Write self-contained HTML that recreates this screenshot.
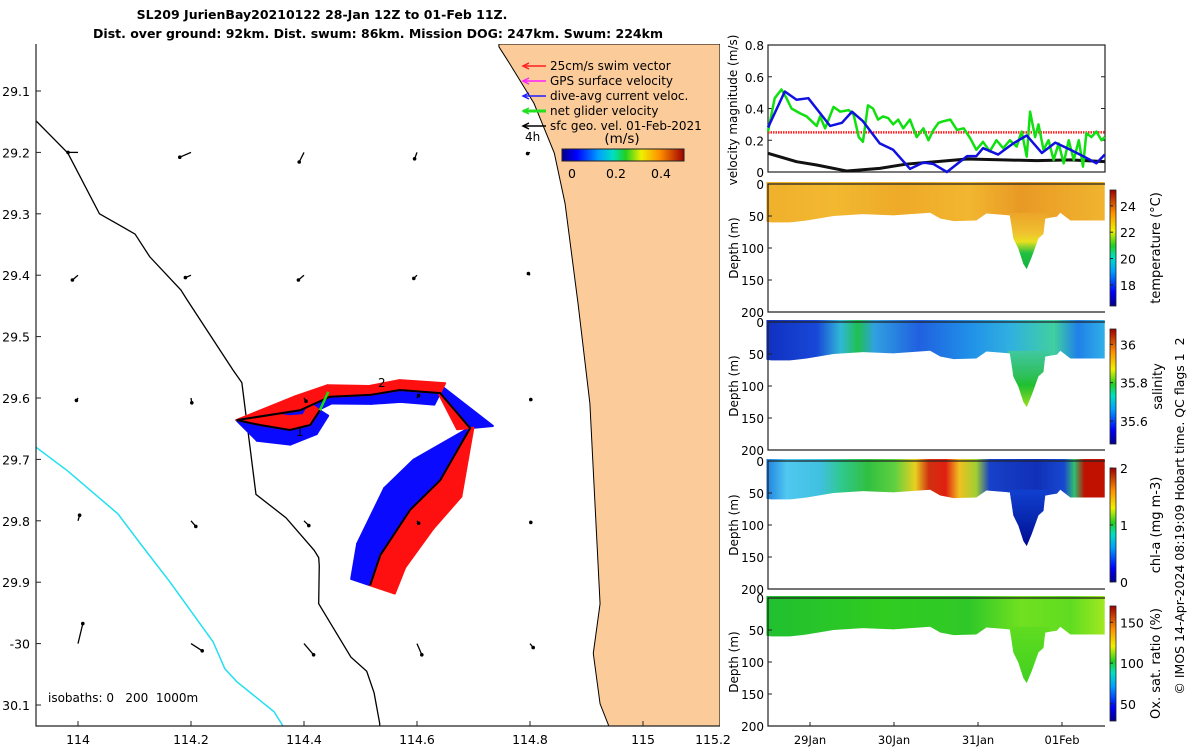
<!DOCTYPE html>
<html><head><meta charset="utf-8"><style>
body{margin:0;background:#fff}
svg{display:block;font-family:"DejaVu Sans","Liberation Sans",sans-serif}
</style></head><body>
<svg id="s" width="1200" height="750" viewBox="0 0 1200 750" xmlns="http://www.w3.org/2000/svg">
<defs>
<linearGradient id="jet" x1="0" y1="0" x2="1" y2="0">
<stop offset="0" stop-color="#00008f"/><stop offset=".12" stop-color="#0000ff"/><stop offset=".3" stop-color="#00a0ff"/><stop offset=".42" stop-color="#00e0c0"/><stop offset=".52" stop-color="#20d020"/><stop offset=".65" stop-color="#f0f000"/><stop offset=".8" stop-color="#ff9000"/><stop offset="1" stop-color="#a00000"/>
</linearGradient>
<linearGradient id="jetv" x1="0" y1="1" x2="0" y2="0">
<stop offset="0" stop-color="#00008f"/><stop offset=".12" stop-color="#0000ff"/><stop offset=".3" stop-color="#00a0ff"/><stop offset=".42" stop-color="#00e0c0"/><stop offset=".52" stop-color="#20d020"/><stop offset=".65" stop-color="#f0f000"/><stop offset=".8" stop-color="#ff9000"/><stop offset="1" stop-color="#a00000"/>
</linearGradient>
<clipPath id="mapclip"><rect x="36" y="44" width="684" height="682"/></clipPath>
</defs>
<text x="322" y="19" text-anchor="middle" font-size="12.5" font-weight="bold">SL209 JurienBay20210122 28-Jan 12Z to 01-Feb 11Z.</text>
<text x="378" y="38" text-anchor="middle" font-size="12.5" font-weight="bold">Dist. over ground: 92km. Dist. swum: 86km. Mission DOG: 247km. Swum: 224km</text>
<g id="mapc" clip-path="url(#mapclip)"></g>
<g id="map"></g>
<g id="right"></g>
<text transform="translate(1184,516) rotate(-90)" text-anchor="middle" font-size="12.5">© IMOS 14-Apr-2024 08:19:09 Hobart time. QC flags 1&#160;&#160;2</text>
</svg>
<script>
// ---------- MAP DATA ----------
const mapLonTicks=[114,114.2,114.4,114.6,114.8,115];
const mapLatTicks=[29.1,29.2,29.3,29.4,29.5,29.6,29.7,29.8,29.9,30.0,30.1];
const mapLatLabels=["29.1","29.2","29.3","29.4","29.5","29.6","29.7","29.8","29.9","-30","30.1"];
const coastLon=[114.745,114.763,114.807,114.843,114.862,114.885,114.906,114.915,114.924,114.912,114.924,114.942];
const coastLat=[29.028,29.054,29.120,29.201,29.283,29.446,29.609,29.772,29.935,30.016,30.098,30.140];
const iso200Lon=[113.924,113.982,114.038,114.101,114.127,114.182,114.193,114.274,114.290,114.315,114.368,114.418,114.426,114.427,114.426,114.483,114.511,114.524,114.534,114.534,114.519];
const iso200Lat=[29.147,29.201,29.300,29.333,29.370,29.424,29.440,29.554,29.575,29.757,29.795,29.848,29.860,29.873,29.935,30.022,30.045,30.080,30.130,30.140,30.140];
const iso1000Lon=[113.924,113.982,114.071,114.111,114.163,114.239,114.260,114.281,114.347,114.366,114.366,114.361];
const iso1000Lat=[29.679,29.719,29.789,29.838,29.900,29.997,30.041,30.062,30.111,30.139,30.186,30.200];
const trackLon=[114.517,114.535,114.588,114.641,114.694,114.641,114.570,114.517,114.446,114.393,114.281,114.322,114.375,114.411,114.428];
const trackLat=[29.905,29.856,29.782,29.734,29.649,29.592,29.587,29.595,29.598,29.620,29.636,29.644,29.652,29.644,29.620];
const redOff=[-26,-30,-30,-24,16,-12,-8,-10,-14,-16,12,14,14,12];
const blueOff=[20,32,36,32,-28,14,10,8,6,10,-16,-16,-14,-10];
const vecLon=[114,114.2,114.4,114.6,114.8];
const vecLat=[29.2,29.4,29.6,29.8,30.0];
const vecU=[[-0.25,-0.28,-0.12,-0.06,-0.06],[-0.14,-0.14,-0.14,-0.08,-0.04],[-0.04,0.02,0.05,0.04,0.02],[0.04,0.12,0.12,0.04,0.02],[0.12,0.28,0.24,0.12,0.08]];
const vecV=[[0,0.12,0.24,0.16,0.03],[0.12,0.06,0.12,0.08,-0.04],[0.06,0.12,0.08,-0.06,0.04],[-0.14,0.14,0.12,0.06,0.04],[-0.5,0.18,0.28,0.28,0.1]];
// ---------- RIGHT PANEL DATA ----------
const dayTicks=[29,30,31,32];
const dayLabels=["29Jan","30Jan","31Jan","01Feb"];
const velTicks=[0,0.2,0.4,0.6,0.8];
const blueDay=[28.50,28.70,28.84,28.98,29.24,29.38,29.50,29.63,29.83,29.99,30.19,30.35,30.47,30.63,30.87,30.98,31.06,31.24,31.42,31.58,31.76,31.92,32.10,32.25,32.41,32.51];
const blueVel=[0.28,0.507,0.455,0.465,0.29,0.31,0.38,0.32,0.18,0.14,0.02,0.06,0.05,0.0,0.10,0.10,0.15,0.11,0.18,0.23,0.12,0.185,0.14,0.10,0.055,0.11];
const greenDay=[28.50,28.58,28.66,28.72,28.78,28.88,28.96,29.02,29.08,29.12,29.18,29.28,29.36,29.46,29.52,29.58,29.63,29.69,29.75,29.81,29.87,29.93,29.99,30.05,30.11,30.19,30.27,30.35,30.41,30.47,30.53,30.59,30.67,30.75,30.83,30.91,30.98,31.06,31.14,31.22,31.30,31.38,31.46,31.52,31.58,31.62,31.68,31.72,31.78,31.84,31.90,31.96,32.02,32.08,32.14,32.20,32.25,32.29,32.35,32.41,32.47,32.51];
const greenVel=[0.255,0.465,0.52,0.465,0.40,0.37,0.35,0.32,0.29,0.35,0.275,0.41,0.38,0.39,0.36,0.22,0.19,0.42,0.40,0.33,0.35,0.34,0.30,0.33,0.275,0.33,0.22,0.275,0.20,0.265,0.31,0.32,0.33,0.265,0.275,0.21,0.14,0.19,0.13,0.20,0.15,0.20,0.16,0.255,0.097,0.38,0.22,0.30,0.14,0.20,0.076,0.18,0.055,0.20,0.076,0.20,0.034,0.245,0.22,0.255,0.20,0.22];
const blackDay=[28.50,28.84,29.08,29.44,29.83,30.15,30.51,30.87,31.30,31.70,32.10,32.51];
const blackVel=[0.118,0.065,0.044,0.006,0.023,0.05,0.065,0.082,0.076,0.072,0.076,0.065];
const swimRef=[0.25];
const depthTicks=[0,50,100,150,200];
const bottomDay=[28.48,28.64,28.96,29.28,29.63,29.99,30.43,30.55,30.71,30.98,31.10,31.38,31.42,31.48,31.54,31.58,31.64,31.72,31.78,31.80,31.94,31.98,32.10,32.51];
const bottomDepth=[59,62,57,50,47,49,45,54,58,57,46,49,85,101,125,133,114,85,78,54,51,45,57,57];
const tempTicks=[18,20,22,24];
const salTicks=[35.6,35.8,36];
const chlTicks=[0,1,2];
const oxTicks=[50,100,150];

const S=document.getElementById('s'),NS='http://www.w3.org/2000/svg';
function mk(tag,at,par){const e=document.createElementNS(NS,tag);for(const k in at)e.setAttribute(k,at[k]);(par||S).appendChild(e);return e;}
function txt(par,x,y,s,at){const e=mk('text',Object.assign({x:x,y:y,'font-size':12.5},at||{}),par);e.textContent=s;return e;}
const MC=document.getElementById('mapc'),M=document.getElementById('map'),R=document.getElementById('right');
const mx=lon=>78+(lon-114)*565, my=lat=>91+(lat-29.1)*614;
const ML=36,MR=720,MT=44,MB=726;
let lp=coastLon.map((l,i)=>mx(l)+','+my(coastLat[i])).join(' ');
let land=mk('polygon',{points:mx(coastLon[0])+','+MT+' '+lp+' '+MR+','+(MB+30)+' '+MR+','+MT,fill:'#fbcb9a',stroke:'#000','stroke-width':1},MC);

let c=mk('polyline',{points:iso200Lon.map((l,i)=>mx(l)+','+my(iso200Lat[i])).join(' '),fill:'none',stroke:'#000','stroke-width':1.3},MC);

c=mk('polyline',{points:iso1000Lon.map((l,i)=>mx(l)+','+my(iso1000Lat[i])).join(' '),fill:'none',stroke:'#22e0f0','stroke-width':1.5},MC);

function band(off,col,name){const P=trackLon.map((l,i)=>[mx(l),my(trackLat[i])]);const n=P.length;
 const N=[];for(let i=0;i<n-1;i++){const dx=P[i+1][0]-P[i][0],dy=P[i+1][1]-P[i][1],L=Math.hypot(dx,dy);N.push([dy/L,-dx/L]);}
 for(let i=0;i<n-1;i++){
  const o=off[i],oPrev=i>0?(off[i-1]+o)/2:o,oNext=i<n-2?(off[i+1]+o)/2:o;
  const nA=i>0?[(N[i-1][0]+N[i][0])/2,(N[i-1][1]+N[i][1])/2]:N[i];
  const nB=i<n-2?[(N[i+1][0]+N[i][0])/2,(N[i+1][1]+N[i][1])/2]:N[i];
  const a=P[i],b=P[i+1];
  const sa=Math.sign(o)==Math.sign(oPrev)?oPrev:o, sb=Math.sign(o)==Math.sign(oNext)?oNext:o;
  const p=mk('polygon',{points:`${a[0]},${a[1]} ${b[0]},${b[1]} ${b[0]+nB[0]*sb},${b[1]+nB[1]*sb} ${a[0]+nA[0]*sa},${a[1]+nA[1]*sa}`,fill:col,stroke:col,'stroke-width':2,'stroke-linejoin':'round'},MC);
  }}
band(blueOff,'#0a0aff','dive-avg-current-band');band(redOff,'#ff1010','swim-vector-band');
c=mk('polyline',{points:trackLon.map((l,i)=>mx(l)+','+my(trackLat[i])).join(' '),fill:'none',stroke:'#000','stroke-width':2},MC);

c=mk('line',{x1:mx(114.428),y1:my(29.620),x2:mx(114.443),y2:my(29.59),stroke:'#10e010','stroke-width':2.5},MC);

txt(MC,378,387,'2',{'font-size':12});txt(MC,296,436,'1',{'font-size':12});
vecLat.forEach((la,r)=>vecLon.forEach((lo,k)=>{const x=mx(lo),y=my(la),x2=x+vecU[r][k]*40,y2=y+vecV[r][k]*40;
const l=mk('line',{x1:x,y1:y,x2:x2,y2:y2,stroke:'#000','stroke-width':1.3},MC);
const h=mk('circle',{cx:x2,cy:y2,r:1.8,fill:'#000'},MC);}));
c=mk('polyline',{points:`${ML},${MT} ${ML},${MB} ${MR},${MB}`,fill:'none',stroke:'#222','stroke-width':1.2},M);

mapLonTicks.forEach(l=>{mk('line',{x1:mx(l),y1:MB,x2:mx(l),y2:MB-5,stroke:'#222'},M);const t=txt(M,mx(l),744,String(l),{'text-anchor':'middle'});});
txt(M,713,744,'115.2',{'text-anchor':'middle'});
mapLatTicks.forEach((l,i)=>{mk('line',{x1:ML,y1:my(l),x2:ML+5,y2:my(l),stroke:'#222'},M);const t=txt(M,30,my(l)+5,mapLatLabels[i],{'text-anchor':'end'});});
txt(M,48,702,'isobaths: 0\u00a0\u00a0\u00a0200\u00a0\u00a01000m',{'font-size':12});
const legC=['#ff2020','#ff20ff','#2020ff','#20e020','#000'],legT=['25cm/s swim vector','GPS surface velocity','dive-avg current veloc.','net glider velocity','sfc geo. vel. 01-Feb-2021'];
legT.forEach((s,i)=>{const y=66+i*15;const l=mk('line',{x1:523,y1:y,x2:546,y2:y,stroke:legC[i],'stroke-width':i==3?3:1.5},M);
mk('polyline',{points:`529,${y-3} 523,${y} 529,${y+3}`,fill:'none',stroke:legC[i],'stroke-width':1.5},M);
const t=txt(M,550,y+4,s,{'font-size':12});});
txt(M,525,141,'4h',{'font-size':12});txt(M,622,143,'(m/s)',{'text-anchor':'middle','font-size':13.5});
c=mk('rect',{x:562,y:149,width:122,height:12,fill:'url(#jet)',stroke:'#222','stroke-width':1},M);
[[572,'0'],[616,'0.2'],[661,'0.4']].forEach(a=>txt(M,a[0],178,a[1],{'text-anchor':'middle'}));
// ---------- RIGHT ----------
const X0=768,X1=1105,px=d=>810+(d-29)*84;
const vy=v=>172-v*158.75;
mk('rect',{x:X0,y:45,width:X1-X0,height:127,fill:'none',stroke:'#222','stroke-width':1.2},R);
velTicks.forEach(v=>{mk('line',{x1:X0,y1:vy(v),x2:X0+4,y2:vy(v),stroke:'#222'},R);mk('line',{x1:X1,y1:vy(v),x2:X1-4,y2:vy(v),stroke:'#222'},R);txt(R,764,vy(v)+5,String(v),{'text-anchor':'end','font-size':12});});
txt(R,0,0,'velocity magnitude (m/s)',{transform:'translate(737,110) rotate(-90)','text-anchor':'middle','font-size':12});
c=mk('line',{x1:X0,y1:vy(swimRef[0]),x2:X1,y2:vy(swimRef[0]),stroke:'#ff2020','stroke-width':2.5,'stroke-dasharray':'1.5 1'},R);
function ser(d,v,col,w,name){const p=mk('polyline',{points:d.map((x,i)=>px(x)+','+vy(v[i])).join(' '),fill:'none',stroke:col,'stroke-width':w,'stroke-linejoin':'round'},R);}
ser(blackDay,blackVel,'#111',3,'sfc-geo-velocity-line');ser(greenDay,greenVel,'#10e010',2.5,'net-glider-velocity-line');ser(blueDay,blueVel,'#1010e0',2.5,'dive-avg-current-line');
const panels=[
 {top:184,name:'temperature-section',base:[['0','#f0b02c'],['.2','#f2b830'],['.4','#eeaa28'],['.6','#f2b630'],['.75','#e89a24'],['.85','#eca428'],['1','#f0b430']],bump:[['0','#eca428'],['.35','#f0c030'],['.5','#e8e020'],['.7','#20c040'],['1','#10b040']],cb:[190,306],ticks:tempTicks,lo:16.4,hi:25.2,label:'temperature (°C)',lx:1160},
 {top:322,name:'salinity-section',base:[['0','#1030c0'],['.15','#1848d8'],['.22','#30b8d8'],['.27','#20c050'],['.32','#30a0e0'],['.45','#2060e0'],['.6','#2090e8'],['.72','#30b0e0'],['.85','#40d0a0'],['.92','#2080e8'],['1','#30b0e8']],bump:[['0','#40c8a0'],['.4','#30c060'],['.6','#20c030'],['1','#a0e020']],cb:[329,444],ticks:salTicks,lo:35.48,hi:36.08,label:'salinity',lx:1162},
 {top:461,name:'chl-a-section',base:[['0','#2080e0'],['.06','#50c8f0'],['.16','#40c0e0'],['.22','#30c890'],['.3','#30c040'],['.38','#60d040'],['.44','#e8d020'],['.48','#d03010'],['.53','#e02010'],['.57','#f0c020'],['.62','#a0d030'],['.66','#1840c8'],['.8','#1030b8'],['.88','#1848d0'],['.91','#30c070'],['.94','#c01000'],['1','#c01000']],bump:[['0','#1040d0'],['.5','#0828b0'],['1','#000890']],cb:[468,582],ticks:chlTicks,lo:0,hi:2,label:'chl-a (mg m-3)',lx:1160},
 {top:598,name:'oxygen-section',base:[['0','#20c030'],['.35','#30cc20'],['.6','#30c828'],['.75','#70e020'],['.9','#60dc20'],['1','#a0e820']],bump:[['0','#60dc20'],['1','#40d020']],cb:[606,721],ticks:oxTicks,lo:29,hi:170,label:'Ox. sat. ratio (%)',lx:1160}];
panels.forEach((P,pi)=>{const dy=d=>P.top+d*128/200;
 const g=mk('g',{},R);
 const gid='g'+pi,bid='b'+pi,cid='c'+pi,defs=S.querySelector('defs');
 const lg=mk('linearGradient',{id:gid,x1:0,y1:0,x2:1,y2:0},defs);P.base.forEach(s=>mk('stop',{offset:s[0],'stop-color':s[1]},lg));
 const bg=mk('linearGradient',{id:bid,x1:0,y1:0,x2:0,y2:1},defs);P.bump.forEach(s=>mk('stop',{offset:s[0],'stop-color':s[1]},bg));
 const cp=mk('clipPath',{id:cid},defs);
 mk('polygon',{points:px(bottomDay[0])+','+(P.top-2)+' '+bottomDay.map((d,i)=>px(d)+','+dy(bottomDepth[i])).join(' ')+' '+px(bottomDay[bottomDay.length-1])+','+(P.top-2)},cp);
 const gg=mk('g',{'clip-path':`url(#${cid})`},g);
 mk('rect',{x:px(bottomDay[0]),y:P.top-3,width:px(bottomDay[bottomDay.length-1])-px(bottomDay[0]),height:dy(60)-P.top+3,fill:`url(#${gid})`},gg);
 mk('rect',{x:px(31.35),y:dy(45),width:px(31.85)-px(31.35),height:dy(135)-dy(45),fill:`url(#${bid})`},gg);
 mk('polyline',{points:`${X1},${P.top} ${X0},${P.top} ${X0},${P.top+128} ${X1},${P.top+128}`,fill:'none',stroke:'#222','stroke-width':1.2},R);
 depthTicks.forEach(d=>{mk('line',{x1:X0,y1:dy(d),x2:X0+4,y2:dy(d),stroke:'#222'},R);txt(R,764,dy(d)+5,String(d),{'text-anchor':'end','font-size':12});});
 txt(R,0,0,'Depth (m)',{transform:`translate(738,${P.top+64}) rotate(-90)`,'text-anchor':'middle','font-size':12});
 const cb=mk('rect',{x:1110,y:P.cb[0],width:6,height:P.cb[1]-P.cb[0],fill:'url(#jetv)',stroke:'#222','stroke-width':.8},R);
 P.ticks.forEach(t=>{const y=P.cb[1]-(t-P.lo)/(P.hi-P.lo)*(P.cb[1]-P.cb[0]);mk('line',{x1:1110,y1:y,x2:1113,y2:y,stroke:'#222'},R);txt(R,1120,y+5,String(t),{'font-size':12.5});});
 txt(R,0,0,P.label,{transform:`translate(${P.lx},${(P.cb[0]+P.cb[1])/2}) rotate(-90)`,'text-anchor':'middle','font-size':13});
 if(pi===3){dayTicks.forEach((d,i)=>{mk('line',{x1:px(d),y1:P.top+128,x2:px(d),y2:P.top+124,stroke:'#222'},R);const t=txt(R,px(d),744,dayLabels[i],{'text-anchor':'middle','font-size':11.5});});}
});
</script>
</body></html>
